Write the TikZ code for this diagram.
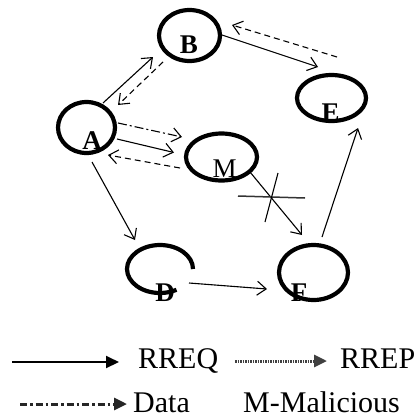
\documentclass[tikz,border=0pt]{standalone}
\usepackage{fontspec}
\setmainfont{Liberation Serif}
\usetikzlibrary{shapes.geometric,arrows.meta,calc}
\begin{document}
\begin{tikzpicture}[x=1pt,y=-1pt,
  ring/.style={ellipse, draw, line width=4.2pt, inner sep=0pt},
  hollow/.style={ellipse, inner sep=0pt},
  nodelabel/.style={font=\fontsize{27}{30}\selectfont\bfseries, inner sep=0pt, anchor=base},
  plainlabel/.style={font=\fontsize{27}{30}\selectfont, inner sep=0pt, anchor=base},
  link/.style={line width=1.1pt, -{Straight Barb[length=9pt,width=14pt]}},
  dashlink/.style={link, dash pattern=on 6pt off 4pt},
  dotlink/.style={link, dash pattern=on 9pt off 3pt on 2pt off 3pt},
  legendtext/.style={font=\fontsize{30}{34}\selectfont, inner sep=0pt, anchor=base west},
  legendtip/.style={-{Triangle[length=13pt,width=12pt]}}
]
\useasboundingbox (0,0) rectangle (419,418);
\fill[white] (0,0) rectangle (419,418);

% network nodes
\node[ring, minimum width=57pt, minimum height=51pt] (A) at (86.5,127.5) {};
\node[ring, minimum width=61pt, minimum height=51pt] (B) at (189.5,35.5) {};
\node[ring, minimum width=69pt, minimum height=46pt] (E) at (331.5,98) {};
\node[ring, minimum width=71pt, minimum height=47pt] (M) at (221.5,157) {};
\node[hollow, minimum width=66pt, minimum height=48pt] (D) at (160,269) {};
\node[ring, minimum width=69pt, minimum height=55pt] (F) at (313.5,272.5) {};
% node D is drawn as an open ring
\draw[line width=4.2pt] ($(D)+(33,0)$) arc[start angle=0, end angle=300, x radius=33pt, y radius=24pt];

% node letters
\node[nodelabel] (lA) at (92,149) {A};
\node[nodelabel] (lB) at (189,53) {B};
\node[nodelabel] (lE) at (330.5,121) {E};
\node[plainlabel] (lM) at (224.5,177) {M};
\node[nodelabel] (lD) at (165,301) {D};
\node[nodelabel] (lF) at (299,301) {F};

% route discovery and replies
\draw[link] ($(A)+(16.5,-24.5)$) -- ($(B)+(-36.5,21.5)$);
\draw[dashlink] ($(B)+(-26.5,26.5)$) -- ($(A)+(31.5,-22.5)$);
\draw[dotlink] ($(A)+(31.5,-4.5)$) -- ($(M)+(-39.5,-20)$);
\draw[link] ($(A)+(30.5,11.5)$) -- ($(M)+(-47.5,-4.5)$);
\draw[dashlink] ($(M)+(-41.5,11)$) -- ($(A)+(21.5,27.5)$);
\draw[link] ($(A)+(5.5,34.5)$) -- ($(D)+(-25,-29)$);
\draw[link] ($(B)+(32.5,-0.5)$) -- ($(E)+(-13.5,-31)$);
\draw[dashlink] ($(E)+(5.5,-41)$) -- ($(B)+(42.5,-10.5)$);
\draw[link] ($(M)+(28.5,15)$) -- ($(F)+(-11.5,-37.5)$);
\draw[link] ($(F)+(8.5,-35.5)$) -- ($(E)+(26.5,30)$);
\draw[link] ($(D)+(29,14)$) -- ($(F)+(-46.5,16.5)$);

% cross marking the blocked link
\coordinate (x1) at (238,196);
\coordinate (x2) at (305,198);
\coordinate (x3) at (278,173);
\coordinate (x4) at (265,222);
\draw[line width=1.5pt, black!80] (x1) -- (x2);
\draw[line width=1.1pt] (x3) -- (x4);

% legend
\coordinate (q1) at (12,362);
\coordinate (q2) at (119,362);
\draw[line width=2pt, legendtip] (q1) -- (q2);
\node[legendtext] (tq) at (138,368) {RREQ};
\coordinate (p1) at (235,361);
\coordinate (p2) at (327,361);
\draw[line width=3pt, black!75, dash pattern=on 1.5pt off 1pt, legendtip] (p1) -- (p2);
\node[legendtext] (tp) at (340,368) {RREP};
\coordinate (d1) at (20,404);
\coordinate (d2) at (127,404);
\draw[line width=3pt, black!85, dash pattern=on 7pt off 3pt on 2.5pt off 3pt, legendtip] (d1) -- (d2);
\node[legendtext] (td) at (133,412) {Data};
\node[legendtext] (tm) at (243,412) {M-Malicious};
\end{tikzpicture}
\end{document}
